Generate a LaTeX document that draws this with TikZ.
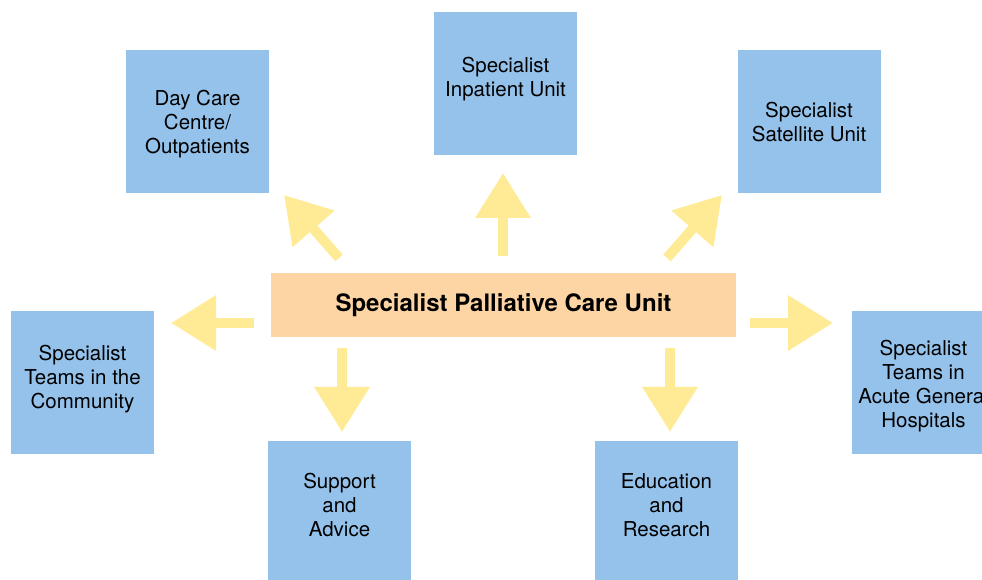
\documentclass[tikz,border=0pt]{standalone}
\usepackage{fontspec}
\setmainfont{TeX Gyre Heros}
\usetikzlibrary{arrows.meta}
\definecolor{boxblue}{RGB}{149,194,234}
\definecolor{peach}{RGB}{253,213,165}
\definecolor{arrowyellow}{RGB}{255,235,150}
\begin{document}
\begin{tikzpicture}[x=1pt,y=1pt,
  unitbox/.style={fill=boxblue, minimum width=143pt, minimum height=143pt, inner sep=0pt},
  unittext/.style={inner sep=0pt, align=center, font=\fontsize{20.5}{24}\selectfont, text=black},
  hub/.style={fill=peach, minimum width=465pt, minimum height=64pt, inner sep=0pt,
    font=\fontsize{24}{28}\selectfont\bfseries},
  bigarrow/.style={draw=arrowyellow, line width=10pt,
    -{Triangle[width=53pt,length=45pt,fill=arrowyellow]}}]
\useasboundingbox (0,0) rectangle (982,580);
\clip (0,0) rectangle (982,580);
\node[hub] (hub) at (503.5,275) {Specialist Palliative Care Unit};
\node[unitbox] (day) at (197.5,458) {};
\node[unitbox] (inp) at (505.5,496.5) {};
\node[unitbox] (sat) at (809,458) {};
\node[unitbox] (com) at (82.5,197) {};
\node[unitbox] (acu) at (923.5,197) {};
\node[unitbox] (sup) at (339.5,67.5) {};
\node[unitbox] (edu) at (666.5,67.5) {};
\node[unittext] (dayT) at ([yshift=-2pt]day.center) {Day Care\\Centre/\\Outpatients};
\node[unittext] (inpT) at ([yshift=4.5pt]inp.center) {Specialist\\Inpatient Unit};
\node[unittext] (satT) at (sat.center) {Specialist\\Satellite Unit};
\node[unittext] (comT) at ([yshift=4pt]com.center) {Specialist\\Teams in the\\Community};
\node[unittext] (acuT) at ([yshift=-3pt]acu.center) {Specialist\\Teams in\\Acute General\\Hospitals};
\node[unittext] (supT) at ([yshift=7.5pt]sup.center) {Support\\and\\Advice};
\node[unittext] (eduT) at ([yshift=7.5pt]edu.center) {Education\\and\\Research};
% arrow end points
\coordinate (tUp) at (503,324);   \coordinate (hUp) at (503,407);
\coordinate (tUL) at (339,322);   \coordinate (hUL) at (284,385);
\coordinate (tUR) at (667,322);   \coordinate (hUR) at (722,385);
\coordinate (tL) at (254,257);    \coordinate (hL) at (171,257);
\coordinate (tR) at (750,257);    \coordinate (hR) at (833,257);
\coordinate (tDL) at (342,232);   \coordinate (hDL) at (342,148);
\coordinate (tDR) at (670,232);   \coordinate (hDR) at (670,148);
\draw[bigarrow] (tUp) -- (hUp);
\draw[bigarrow] (tUL) -- (hUL);
\draw[bigarrow] (tUR) -- (hUR);
\draw[bigarrow] (tL) -- (hL);
\draw[bigarrow] (tR) -- (hR);
\draw[bigarrow] (tDL) -- (hDL);
\draw[bigarrow] (tDR) -- (hDR);
\end{tikzpicture}
\end{document}
